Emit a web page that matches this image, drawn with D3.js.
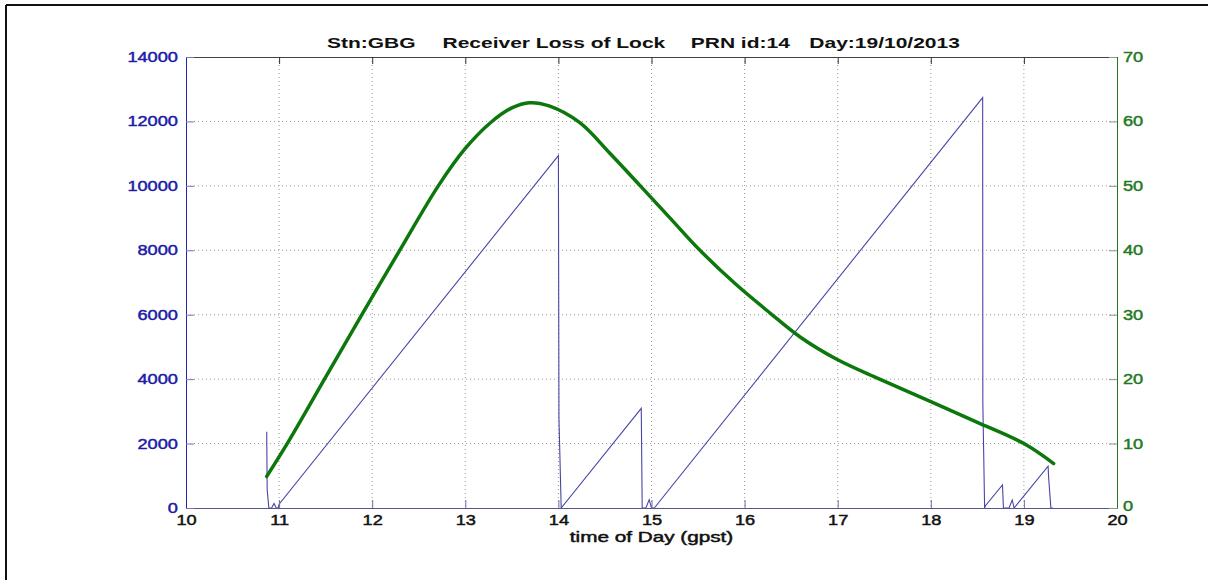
<!DOCTYPE html>
<html>
<head>
<meta charset="utf-8">
<script src="https://cdn.jsdelivr.net/npm/d3@7"></script>
<style>
  body { margin: 0; background: #fff; }
  svg text { font-family: "Liberation Sans", Arial, sans-serif; }
</style>
</head>
<body>
<svg id="chart" width="1208" height="580"></svg>
<script>
// lock time counter (left axis)
var lockHour = [10.867, 10.872, 10.89, 10.92, 10.945, 10.97, 10.99, 11.0, 14.0, 14.002, 14.006, 14.03,
  14.89, 14.9, 14.94, 14.975, 15.0, 15.03, 18.557, 18.559, 18.578, 18.587, 18.77, 18.78, 18.84, 18.875,
  18.895, 19.26, 19.265, 19.29, 19.31];
var lockValue = [2370, 560, 0, 0, 140, 0, 0, 120, 10940, 8270, 2790, 0,
  3095, 0, 0, 260, 0, 0, 12740, 3250, 0, 70, 714, 0, 0, 250,
  0, 1300, 970, 0, 0];

// green curve (right axis)
var elevHour = [10.867, 11.1, 11.5, 11.9, 12.3, 12.71, 13.0, 13.27, 13.5, 13.69, 13.9, 14.23, 14.55,
  14.88, 15.2, 15.52, 15.9, 16.27, 16.6, 17.0, 17.45, 18.0, 18.5, 19.0, 19.32];
var elevValue = [4.9, 10.3, 20.3, 30.3, 40.1, 50, 55.8, 59.8, 62.1, 62.9, 62.4, 59.8, 55.1,
  50, 45, 40, 34.8, 30.3, 26.5, 23.0, 20, 16.5, 13.3, 10.0, 6.9];

var xTicks = [10, 11, 12, 13, 14, 15, 16, 17, 18, 19, 20];
var leftTicks = [0, 2000, 4000, 6000, 8000, 10000, 12000, 14000];
var rightTicks = [0, 10, 20, 30, 40, 50, 60, 70];
var titleParts = ["Stn:GBG", "Receiver Loss of Lock", "PRN id:14", "Day:19/10/2013"];
var xLabel = "time of Day (gpst)";

var blueAxis = "#2424a4", greenAxis = "#1f7a1f";
var m = {left: 186, right: 1117, top: 57, bottom: 508};
var w = m.right - m.left, h = m.bottom - m.top;

var svg = d3.select("#chart");

// outer frame (top + left edge only visible)
svg.append("line").attr("x1", 6).attr("x2", 1208).attr("y1", 5).attr("y2", 5)
  .attr("stroke", "#111").attr("stroke-width", 2);
svg.append("line").attr("x1", 6).attr("x2", 6).attr("y1", 5).attr("y2", 580)
  .attr("stroke", "#111").attr("stroke-width", 2);

var x = d3.scaleLinear().domain([10, 20]).range([0, w]);
var yL = d3.scaleLinear().domain([0, 14000]).range([h, 0]);
var yR = d3.scaleLinear().domain([0, 70]).range([h, 0]);

var g = svg.append("g").attr("transform", "translate(" + m.left + "," + m.top + ")");

// dotted grid
g.append("g").selectAll("line")
  .data(xTicks.slice(1, -1)).enter()
  .append("line")
    .attr("x1", d => x(d)).attr("x2", d => x(d))
    .attr("y1", 0).attr("y2", h)
    .attr("stroke", "#9a9a9a").attr("stroke-width", 1)
    .attr("stroke-dasharray", "1,3");
g.append("g").selectAll("line")
  .data(leftTicks.slice(1, -1)).enter()
  .append("line")
    .attr("x1", 0).attr("x2", w)
    .attr("y1", d => yL(d)).attr("y2", d => yL(d))
    .attr("stroke", "#9a9a9a").attr("stroke-width", 1)
    .attr("stroke-dasharray", "1,3");

// lock counter line
var blueLine = d3.line()
  .x((d, i) => x(lockHour[i]))
  .y(d => yL(d));
g.append("path")
  .datum(lockValue)
  .attr("d", blueLine)
  .attr("fill", "none")
  .attr("stroke", "#4646a6")
  .attr("stroke-width", 1.1);

// green curve
var greenLine = d3.line()
  .x((d, i) => x(elevHour[i]))
  .y(d => yR(d))
  .curve(d3.curveCatmullRom.alpha(0.5));
g.append("path")
  .datum(elevValue)
  .attr("d", greenLine)
  .attr("fill", "none")
  .attr("stroke", "#0c780c")
  .attr("stroke-width", 3.5)
  .attr("stroke-linecap", "round");

// labels look heavier than plain text in the original, add a thin outline
function heavy(sel, col) {
  sel.attr("fill", col).attr("stroke", col).attr("stroke-width", 0.45)
    .attr("font-size", "14px");
}

// axes, ticks pointing inward like matlab
var axBottom = g.append("g").attr("transform", "translate(0," + h + ")")
  .call(d3.axisBottom(x).tickValues(xTicks).tickFormat(d3.format("d"))
    .tickSizeInner(-8).tickSizeOuter(0).tickPadding(7));
axBottom.select(".domain").attr("stroke", "#55558f");
axBottom.selectAll(".tick line").attr("stroke", "#7070a0");
axBottom.selectAll("text").call(heavy, "#111")
  .attr("transform", "scale(1.3,1)");

var axTop = g.append("g")
  .call(d3.axisTop(x).tickValues(xTicks).tickFormat("")
    .tickSizeInner(-7).tickSizeOuter(0));
axTop.select(".domain").attr("stroke", "#444");
axTop.selectAll(".tick line").attr("stroke", "#333");

var axLeft = g.append("g")
  .call(d3.axisLeft(yL).tickValues(leftTicks).tickFormat(d3.format("d"))
    .tickSizeInner(-8).tickSizeOuter(0).tickPadding(6.2));
axLeft.select(".domain").attr("stroke", blueAxis);
axLeft.selectAll(".tick line").attr("stroke", "#7a7ab0");
axLeft.selectAll("text").call(heavy, "#1c1ca6")
  .attr("transform", "scale(1.3,1)");

var axRight = g.append("g").attr("transform", "translate(" + w + ",0)")
  .call(d3.axisRight(yR).tickValues(rightTicks).tickFormat(d3.format("d"))
    .tickSizeInner(-8).tickSizeOuter(0).tickPadding(4.6));
axRight.select(".domain").attr("stroke", greenAxis);
axRight.selectAll(".tick line").attr("stroke", "#8a9a8a");
axRight.selectAll("text").call(heavy, "#1f7a1f")
  .attr("transform", "scale(1.3,1)");
// the 0 sits just above the "20" of the x axis
axRight.selectAll("text").filter(d => d === 0).attr("dy", "0.15em");

// x label
svg.append("text")
  .attr("transform", "translate(" + (m.left + w / 2) + ",542) scale(1.48,1)")
  .attr("text-anchor", "middle")
  .call(heavy, "#111")
  .text(xLabel);

// title, pieces spaced apart
var title = svg.append("text")
  .attr("transform", "translate(327,47.5) scale(1.5,1)")
  .attr("font-size", "14px")
  .attr("font-weight", "bold")
  .attr("fill", "#111");
var gaps = [0, 18, 17, 13];
titleParts.forEach(function(t, i) {
  title.append("tspan").attr("dx", gaps[i]).text(t);
});
</script>
</body>
</html>
